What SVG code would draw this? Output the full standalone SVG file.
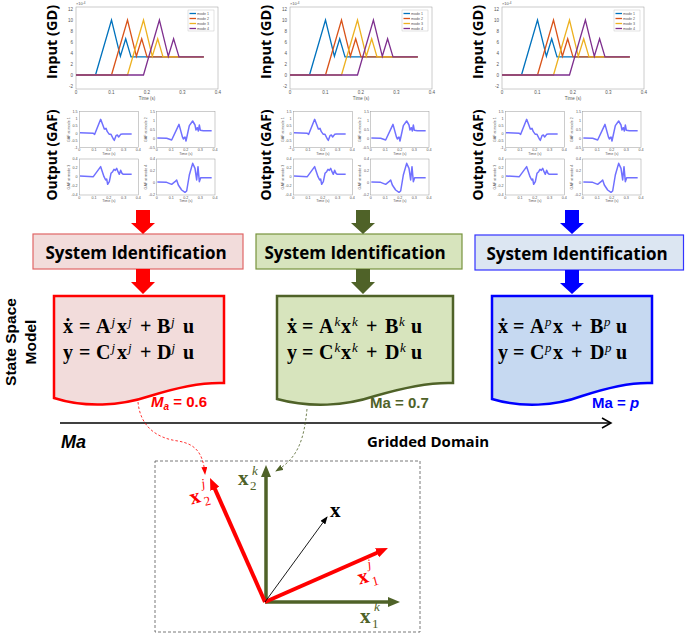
<svg xmlns="http://www.w3.org/2000/svg" xmlns:xlink="http://www.w3.org/1999/xlink" width="685" height="633" viewBox="0 0 685 633">
<style>
.lbl{font-family:"Open Sans","Liberation Sans",sans-serif;font-weight:bold;fill:#000}
.lbs{font-family:"Liberation Sans",Arial,sans-serif;font-weight:bold;fill:#000}
.tk{font-family:"Liberation Sans",Arial,sans-serif;fill:#555}
.eq{font-family:"Liberation Serif","DejaVu Serif",serif;font-weight:bold;font-size:20px}
.sp{font-family:"Liberation Serif","DejaVu Serif",serif;font-style:italic;font-weight:normal;font-size:13px}
.ma{font-family:"Liberation Sans",Arial,sans-serif;font-weight:bold;font-size:15px}
.vec{font-family:"Liberation Serif","DejaVu Serif",serif;font-weight:bold;font-size:21px}
.vs{font-family:"Liberation Serif","DejaVu Serif",serif;font-style:italic;font-size:13px}
.vn{font-family:"Liberation Serif","DejaVu Serif",serif;font-size:13px}
.m1{fill:none;stroke:#0072BD;stroke-width:1.3}
.m2{fill:none;stroke:#D95319;stroke-width:1.3}
.m3{fill:none;stroke:#EDB120;stroke-width:1.3}
.m4{fill:none;stroke:#7E2F8E;stroke-width:1.3}
.gaf{fill:none;stroke:#7070FF;stroke-width:4.5;stroke-linejoin:round}
.ax{fill:#fff;stroke:#999;stroke-width:0.5}
.ax3{fill:#fff;stroke:#999;stroke-width:1.5}
</style>
<defs>
<marker id="hR" markerUnits="userSpaceOnUse" markerWidth="12" markerHeight="10" refX="2" refY="5" orient="auto"><path d="M0,0 L12,5 L0,10 z" fill="#FF0000"/></marker>
<marker id="hG" markerUnits="userSpaceOnUse" markerWidth="12" markerHeight="10" refX="2" refY="5" orient="auto"><path d="M0,0 L12,5 L0,10 z" fill="#4F6228"/></marker>
<marker id="hK" markerUnits="userSpaceOnUse" markerWidth="8" markerHeight="6" refX="7" refY="3" orient="auto"><path d="M0,0 L8,3 L0,6 z" fill="#000"/></marker>
<marker id="hRd" markerUnits="userSpaceOnUse" markerWidth="8" markerHeight="6" refX="7" refY="3" orient="auto"><path d="M0,0 L8,3 L0,6 z" fill="#FF0000"/></marker>
<marker id="hGd" markerUnits="userSpaceOnUse" markerWidth="8" markerHeight="6" refX="7" refY="3" orient="auto"><path d="M0,0 L8,3 L0,6 z" fill="#4F6228"/></marker>
<g id="inputPlot">
 <rect class="ax" x="76" y="7" width="142" height="82"/>
 <g class="tk" font-size="4.5" text-anchor="end">
  <text x="73" y="10.5">12</text><text x="73" y="21.5">10</text><text x="73" y="32.5">8</text><text x="73" y="43.5">6</text>
  <text x="73" y="54.5">4</text><text x="73" y="65.5">2</text><text x="73" y="76.5">0</text><text x="73" y="87.5">-2</text>
 </g>
 <g class="tk" font-size="4.5" text-anchor="middle">
  <text x="76" y="94">0</text><text x="111.5" y="94">0.1</text><text x="147" y="94">0.2</text><text x="182.5" y="94">0.3</text><text x="218" y="94">0.4</text>
  <text x="147" y="99.5">Time (s)</text>
 </g>
 <text class="tk" font-size="4" x="76" y="5">×10<tspan font-size="3" dy="-1.5">-4</tspan></text>
 <polyline class="m1" points="76,75 95.5,75 111.5,20 120.4,56.3 125.7,38.7 131,56.85 203.8,56.85"/>
 <polyline class="m2" points="76,75 111.5,75 127.5,20 136.4,56.3 141.7,38.7 147,56.85 203.8,56.85"/>
 <polyline class="m3" points="76,75 127.5,75 143.5,20 152.3,56.3 157.7,38.7 163,56.85 203.8,56.85"/>
 <polyline class="m4" points="76,75 143.5,75 159.4,20 168.3,56.3 173.6,38.7 179,56.85 203.8,56.85"/>
 <rect x="188" y="10" width="26" height="21" fill="#fff" stroke="#bbb" stroke-width="0.4"/>
 <line class="m1" x1="189.5" y1="13.5" x2="196" y2="13.5"/>
 <line class="m2" x1="189.5" y1="18.5" x2="196" y2="18.5"/>
 <line class="m3" x1="189.5" y1="23.5" x2="196" y2="23.5"/>
 <line class="m4" x1="189.5" y1="28.5" x2="196" y2="28.5"/>
 <g class="tk" font-size="3.6" fill="#333">
  <text x="197" y="14.7">mode 1</text><text x="197" y="19.7">mode 2</text><text x="197" y="24.7">mode 3</text><text x="197" y="29.7">mode 4</text>
 </g>
</g>
<g id="gafPlots">
 <g transform="translate(60,105) scale(0.33333)">
  <rect class="ax3" x="58" y="20" width="177" height="108"/>
  <rect class="ax3" x="290" y="20" width="175" height="108"/>
  <rect class="ax3" x="58" y="162" width="177" height="108"/>
  <rect class="ax3" x="290" y="162" width="175" height="108"/>
  <g class="tk" font-size="11" text-anchor="end">
   <text x="53" y="24">1.5</text><text x="53" y="45.6">1</text><text x="53" y="67.2">0.5</text><text x="53" y="88.8">0</text><text x="53" y="110.4">-0.5</text><text x="53" y="132">-1</text>
   <text x="285" y="24">1.5</text><text x="285" y="51">1</text><text x="285" y="78">0.5</text><text x="285" y="105">0</text><text x="285" y="132">-0.5</text>
   <text x="53" y="166">0.4</text><text x="53" y="193">0.2</text><text x="53" y="220">0</text><text x="53" y="247">-0.2</text><text x="53" y="274">-0.4</text>
   <text x="285" y="166">0.4</text><text x="285" y="202">0.2</text><text x="285" y="238">0</text><text x="285" y="274">-0.2</text>
  </g>
  <g class="tk" font-size="11" text-anchor="middle">
   <text x="58" y="139">0</text><text x="102" y="139">0.1</text><text x="146.5" y="139">0.2</text><text x="191" y="139">0.3</text><text x="235" y="139">0.4</text>
   <text x="290" y="139">0</text><text x="334" y="139">0.1</text><text x="377.5" y="139">0.2</text><text x="421" y="139">0.3</text><text x="465" y="139">0.4</text>
   <text x="58" y="281">0</text><text x="102" y="281">0.1</text><text x="146.5" y="281">0.2</text><text x="191" y="281">0.3</text><text x="235" y="281">0.4</text>
   <text x="290" y="281">0</text><text x="334" y="281">0.1</text><text x="377.5" y="281">0.2</text><text x="421" y="281">0.3</text><text x="465" y="281">0.4</text>
   <text x="146.5" y="150">Time (s)</text><text x="377.5" y="150">Time (s)</text>
   <text x="146.5" y="292">Time (s)</text><text x="377.5" y="292">Time (s)</text>
   <text transform="translate(30,74) rotate(-90)">GAF at mode 1</text>
   <text transform="translate(262,74) rotate(-90)">GAF at mode 2</text>
   <text transform="translate(30,216) rotate(-90)">GAF at mode 3</text>
   <text transform="translate(262,216) rotate(-90)">GAF at mode 4</text>
  </g>
  <polyline class="gaf" points="60,83 100,85 104,88 122,43 133,72 138,70 142,80 148,88 153,88 160,102 163,106 168,92 172,90 176,96 182,88 188,87 215,87"/>
  <polyline class="gaf" points="292,99 320,100 335,105 357,58 367,95 370,102 375,96 378,108 388,62 398,48 405,60 408,75 412,68 415,78 418,60 421,76 430,77 455,77"/>
  <polyline class="gaf" points="60,213 100,215 122,185 132,215 137,225 140,222 143,238 148,230 153,205 158,200 162,193 166,196 170,190 174,200 178,208 182,196 186,205 190,208 215,208"/>
  <polyline class="gaf" points="292,231 320,232 335,238 345,230 350,225 355,240 365,255 375,262 380,258 388,210 398,175 405,190 410,225 414,185 418,230 422,218 455,218"/>
 </g>
</g>
</defs>

<g id="plots-mach-06">
 <use xlink:href="#inputPlot"/>
 <use xlink:href="#gafPlots"/>
 <text class="lbl" font-size="14.5" transform="translate(57,42) rotate(-90)" text-anchor="middle">Input (GD)</text>
 <text class="lbl" font-size="14" transform="translate(57,155) rotate(-90)" text-anchor="middle">Output (GAF)</text>
</g>
<g id="plots-mach-07">
 <use xlink:href="#inputPlot" transform="translate(214,0)"/>
 <use xlink:href="#gafPlots" transform="translate(214,0)"/>
 <text class="lbl" font-size="14.5" transform="translate(271,42) rotate(-90)" text-anchor="middle">Input (GD)</text>
 <text class="lbl" font-size="14" transform="translate(271,155) rotate(-90)" text-anchor="middle">Output (GAF)</text>
</g>
<g id="plots-mach-p">
 <use xlink:href="#inputPlot" transform="translate(426,0)"/>
 <use xlink:href="#gafPlots" transform="translate(426,0)"/>
 <text class="lbl" font-size="14.5" transform="translate(483,42) rotate(-90)" text-anchor="middle">Input (GD)</text>
 <text class="lbl" font-size="14" transform="translate(483,155) rotate(-90)" text-anchor="middle">Output (GAF)</text>
</g>

<g id="state-space-label">
 <text class="lbs" font-size="15.5" transform="translate(16,342) rotate(-90)" text-anchor="middle">State Space</text>
 <text class="lbs" font-size="15.5" transform="translate(36,342) rotate(-90)" text-anchor="middle">Model</text>
</g>

<g id="sysid-1">
 <rect x="33" y="234" width="210" height="35" fill="#F2DCDB" stroke="#E06666" stroke-width="1.2"/>
 <text class="lbl" font-size="17" x="136" y="259" text-anchor="middle">System Identification</text>
</g>
<g id="sysid-2">
 <rect x="256" y="234" width="206" height="35" fill="#D7E4BD" stroke="#77933C" stroke-width="1.2"/>
 <text class="lbl" font-size="17" x="355" y="259" text-anchor="middle">System Identification</text>
</g>
<g id="sysid-3">
 <rect x="475" y="235" width="208.5" height="35" fill="#DCE6F2" stroke="#3333FF" stroke-width="1.2"/>
 <text class="lbl" font-size="17" x="577" y="260" text-anchor="middle">System Identification</text>
</g>

<g id="model-1">
 <path d="M54,296 H224 V383 C200,382 175,388 150,396 C120,406 85,408 54,398 Z" fill="#F2DCDB" stroke="#FF0000" stroke-width="2.5"/>
 <g class="eq" fill="#000">
  <text y="333"><tspan x="63">ẋ</tspan><tspan x="79">=</tspan><tspan x="96">A</tspan><tspan x="111.5" y="326" class="sp">j</tspan><tspan x="117" y="333">x</tspan><tspan x="128" y="326" class="sp">j</tspan><tspan x="140" y="333">+</tspan><tspan x="157">B</tspan><tspan x="171" y="326" class="sp">j</tspan><tspan x="183" y="333">u</tspan></text>
  <text y="359"><tspan x="63">y</tspan><tspan x="79">=</tspan><tspan x="96">C</tspan><tspan x="111.5" y="352" class="sp">j</tspan><tspan x="117" y="359">x</tspan><tspan x="128" y="352" class="sp">j</tspan><tspan x="140" y="359">+</tspan><tspan x="157">D</tspan><tspan x="171.5" y="352" class="sp">j</tspan><tspan x="183" y="359">u</tspan></text>
 </g>
 <text class="ma" fill="#FF0000" x="151" y="407"><tspan font-style="italic">M</tspan><tspan font-style="italic" font-size="10" dy="3">a</tspan><tspan dy="-3"> = 0.6</tspan></text>
</g>
<g id="model-2">
 <path d="M277,296 H453 V383 C428,382 402,388 375,396 C345,406 310,408 277,399 Z" fill="#D7E4BD" stroke="#4F6228" stroke-width="2.5"/>
 <g class="eq" fill="#000">
  <text y="333"><tspan x="287">ẋ</tspan><tspan x="302">=</tspan><tspan x="319">A</tspan><tspan x="334.5" y="326" class="sp">k</tspan><tspan x="341" y="333">x</tspan><tspan x="352" y="326" class="sp">k</tspan><tspan x="366" y="333">+</tspan><tspan x="385">B</tspan><tspan x="399" y="326" class="sp">k</tspan><tspan x="411" y="333">u</tspan></text>
  <text y="359"><tspan x="287">y</tspan><tspan x="302">=</tspan><tspan x="319">C</tspan><tspan x="334.5" y="352" class="sp">k</tspan><tspan x="341" y="359">x</tspan><tspan x="352" y="352" class="sp">k</tspan><tspan x="366" y="359">+</tspan><tspan x="385">D</tspan><tspan x="400" y="352" class="sp">k</tspan><tspan x="411" y="359">u</tspan></text>
 </g>
 <text class="ma" fill="#4F6228" x="370" y="408">Ma = 0.7</text>
</g>
<g id="model-3">
 <path d="M492,296 H652 V383 C630,382 606,388 582,396 C555,406 522,408 492,399 Z" fill="#C6D9F1" stroke="#0000FF" stroke-width="2.5"/>
 <g class="eq" fill="#000">
  <text y="333"><tspan x="498">ẋ</tspan><tspan x="513">=</tspan><tspan x="530">A</tspan><tspan x="545" y="326" class="sp">p</tspan><tspan x="553" y="333">x</tspan><tspan x="571">+</tspan><tspan x="590">B</tspan><tspan x="604" y="326" class="sp">p</tspan><tspan x="616" y="333">u</tspan></text>
  <text y="359"><tspan x="498">y</tspan><tspan x="513">=</tspan><tspan x="530">C</tspan><tspan x="545" y="352" class="sp">p</tspan><tspan x="553" y="359">x</tspan><tspan x="571">+</tspan><tspan x="590">D</tspan><tspan x="605" y="352" class="sp">p</tspan><tspan x="616" y="359">u</tspan></text>
 </g>
 <text class="ma" fill="#0000FF" x="592" y="408">Ma = <tspan font-style="italic">p</tspan></text>
</g>

<g id="gridded-domain-axis">
 <line x1="60" y1="423" x2="610" y2="423" stroke="#000" stroke-width="1.5"/>
 <polyline points="602,418 611,423 602,428" fill="none" stroke="#000" stroke-width="1.5"/>
 <text x="61" y="448" font-family="Liberation Sans,Arial,sans-serif" font-weight="bold" font-style="italic" font-size="18">Ma</text>
 <text class="lbl" font-size="15" x="367" y="447">Gridded Domain</text>
</g>

<g id="basis-box">
 <rect x="155" y="461" width="265" height="171" fill="none" stroke="#555" stroke-width="0.8" stroke-dasharray="3,2"/>
 <line x1="265" y1="602" x2="390" y2="602" stroke="#4F6228" stroke-width="3.5" marker-end="url(#hG)"/>
 <line x1="266" y1="602" x2="266" y2="475" stroke="#4F6228" stroke-width="3.5" marker-end="url(#hG)"/>
 <line x1="265" y1="602" x2="378.8" y2="552" stroke="#FF0000" stroke-width="4" marker-end="url(#hR)"/>
 <line x1="265" y1="602" x2="214.1" y2="487.1" stroke="#FF0000" stroke-width="4" marker-end="url(#hR)"/>
 <line x1="265" y1="602" x2="327" y2="517" stroke="#000" stroke-width="0.9" marker-end="url(#hK)"/>
 <text class="vec" fill="#000" x="330" y="517">x</text>
 <g fill="#4F6228"><text class="vec" x="238" y="485">x</text><text class="vs" x="252" y="475">k</text><text class="vn" x="250" y="490">2</text></g>
 <g fill="#4F6228"><text class="vec" x="360" y="623">x</text><text class="vs" x="374" y="611">k</text><text class="vn" x="372" y="628">1</text></g>
 <g fill="#FF0000" transform="rotate(-15 200 498)"><text class="vec" x="190" y="502">x</text><text class="vs" x="205" y="489">j</text><text class="vn" x="203" y="507">2</text></g>
 <g fill="#FF0000" transform="rotate(-15 368 578)"><text class="vec" x="358" y="582">x</text><text class="vs" x="371" y="569">j</text><text class="vn" x="371" y="587">1</text></g>
</g>

<g id="connectors">
 <g fill="#FF0000">
  <polygon points="136,210 150,210 150,223 155,223 143,234 131,223 136,223"/>
  <polygon points="136,269 150,269 150,282 155,282 143,294 131,282 136,282"/>
 </g>
 <g fill="#4F6228">
  <polygon points="356,210 370,210 370,223 375,223 363,234 351,223 356,223"/>
  <polygon points="356,269 370,269 370,282 375,282 363,294 351,282 356,282"/>
 </g>
 <g fill="#0000FF">
  <polygon points="565,210 579,210 579,223 584,223 572,234 560,223 565,223"/>
  <polygon points="565,270 579,270 579,283 584,283 572,294 560,283 565,283"/>
 </g>
 <path d="M138,402 C140,425 155,438 178,441 C195,444 203,452 205,474" fill="none" stroke="#FF0000" stroke-width="0.8" stroke-dasharray="2.5,2" marker-end="url(#hRd)"/>
 <path d="M307,409 C304,440 298,458 276,471" fill="none" stroke="#4F6228" stroke-width="0.8" stroke-dasharray="2.5,2" marker-end="url(#hGd)"/>
</g>
</svg>
